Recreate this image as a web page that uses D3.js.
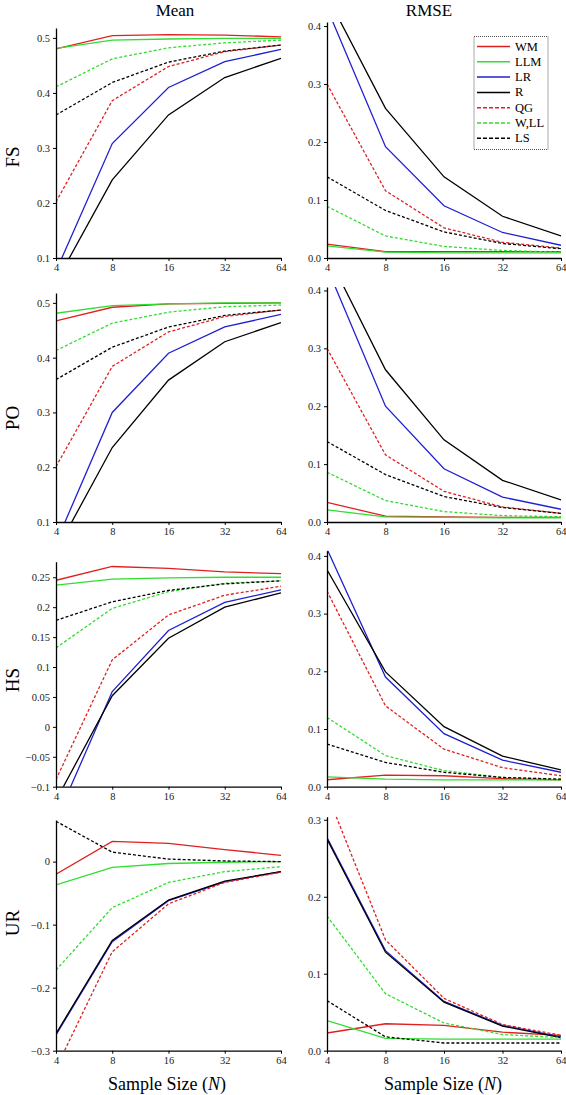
<!DOCTYPE html>
<html><head><meta charset="utf-8">
<script src="https://cdn.jsdelivr.net/npm/d3@7"></script>
<style>
body{margin:0;background:#fff;}
svg{display:block;}
text{font-family:"Liberation Serif","Times New Roman",Times,serif;}
</style></head>
<body><svg id="c" width="566" height="1095"></svg>
<script>
// ---------- data ----------
const N = [4, 8, 16, 32, 64];
const methods = ["WM", "LLM", "LR", "R", "QG", "W,LL", "LS"];
const colors = ["#e02020", "#30dd30", "#2020d0", "#000000", "#e02020", "#30dd30", "#000000"];
const dashed = [false, false, false, false, true, true, true];
const rowLabels = ["FS", "PO", "HS", "UR"];
const colTitles = ["Mean", "RMSE"];
const xLabel = "Sample Size (";
const xLabelVar = "N";

// series values in method order: WM, LLM, LR, R, QG, W,LL, LS
const fsMean = [
  [0.480, 0.504, 0.506, 0.505, 0.502],
  [0.481, 0.496, 0.498, 0.499, 0.499],
  [0.076, 0.308, 0.410, 0.457, 0.479],
  [0.056, 0.242, 0.360, 0.428, 0.463],
  [0.202, 0.386, 0.448, 0.475, 0.487],
  [0.411, 0.462, 0.482, 0.491, 0.496],
  [0.360, 0.419, 0.456, 0.476, 0.487]
];
const fsRmse = [
  [0.024, 0.011, 0.011, 0.011, 0.011],
  [0.021, 0.010, 0.009, 0.009, 0.009],
  [0.431, 0.192, 0.090, 0.044, 0.022],
  [0.452, 0.258, 0.140, 0.072, 0.038],
  [0.300, 0.116, 0.052, 0.027, 0.017],
  [0.089, 0.038, 0.020, 0.013, 0.010],
  [0.140, 0.082, 0.045, 0.025, 0.016]
];
const poMean = [
  [0.467, 0.492, 0.498, 0.499, 0.500],
  [0.481, 0.495, 0.498, 0.500, 0.500],
  [0.062, 0.300, 0.408, 0.456, 0.479],
  [0.047, 0.236, 0.359, 0.429, 0.464],
  [0.201, 0.384, 0.447, 0.475, 0.487],
  [0.413, 0.463, 0.483, 0.493, 0.496],
  [0.360, 0.419, 0.456, 0.477, 0.487]
];
const poRmse = [
  [0.034, 0.010, 0.009, 0.008, 0.008],
  [0.021, 0.009, 0.008, 0.007, 0.007],
  [0.440, 0.200, 0.092, 0.043, 0.022],
  [0.464, 0.263, 0.142, 0.072, 0.038],
  [0.300, 0.116, 0.053, 0.026, 0.015],
  [0.086, 0.037, 0.018, 0.011, 0.009],
  [0.139, 0.082, 0.044, 0.025, 0.015]
];
const hsMean = [
  [0.245, 0.268, 0.265, 0.259, 0.256],
  [0.237, 0.247, 0.249, 0.250, 0.250],
  [-0.156, 0.059, 0.161, 0.208, 0.229],
  [-0.123, 0.052, 0.148, 0.200, 0.224],
  [-0.088, 0.112, 0.187, 0.220, 0.235],
  [0.132, 0.198, 0.226, 0.240, 0.244],
  [0.178, 0.209, 0.228, 0.239, 0.244]
];
const hsRmse = [
  [0.012, 0.020, 0.019, 0.014, 0.012],
  [0.017, 0.013, 0.012, 0.012, 0.012],
  [0.412, 0.190, 0.092, 0.046, 0.025],
  [0.376, 0.199, 0.104, 0.053, 0.029],
  [0.339, 0.140, 0.065, 0.033, 0.019],
  [0.120, 0.054, 0.028, 0.016, 0.013],
  [0.074, 0.042, 0.025, 0.016, 0.013]
];
const urMean = [
  [-0.020, 0.032, 0.029, 0.019, 0.010],
  [-0.037, -0.009, -0.003, -0.001, 0.000],
  [-0.275, -0.127, -0.062, -0.032, -0.016],
  [-0.273, -0.125, -0.061, -0.031, -0.016],
  [-0.328, -0.143, -0.067, -0.033, -0.017],
  [-0.172, -0.073, -0.033, -0.016, -0.008],
  [0.064, 0.015, 0.004, 0.001, 0.000]
];
const urRmse = [
  [0.023, 0.035, 0.033, 0.024, 0.020],
  [0.039, 0.016, 0.015, 0.015, 0.015],
  [0.277, 0.130, 0.064, 0.033, 0.018],
  [0.275, 0.128, 0.063, 0.032, 0.017],
  [0.334, 0.144, 0.068, 0.034, 0.020],
  [0.175, 0.074, 0.036, 0.021, 0.017],
  [0.065, 0.018, 0.010, 0.010, 0.010]
];

const meanTicksP = [0.1, 0.2, 0.3, 0.4, 0.5];
const meanTickLabelsP = ["0.1", "0.2", "0.3", "0.4", "0.5"];
const rmseTicks4 = [0, 0.1, 0.2, 0.3, 0.4];
const rmseTickLabels4 = ["0.0", "0.1", "0.2", "0.3", "0.4"];
const hsMeanTicks = [-0.1, -0.05, 0, 0.05, 0.1, 0.15, 0.2, 0.25];
const hsMeanTickLabels = ["\u22120.1", "\u22120.05", "0", "0.05", "0.1", "0.15", "0.2", "0.25"];
const urMeanTicks = [-0.3, -0.2, -0.1, 0];
const urMeanTickLabels = ["\u22120.3", "\u22120.2", "\u22120.1", "0"];
const urRmseTicks = [0, 0.1, 0.2, 0.3];
const urRmseTickLabels = ["0.0", "0.1", "0.2", "0.3"];

// axis extents
const fsMeanDomain = [0.1, 0.518], fsRmseDomain = [0, 0.407];
const poMeanDomain = [0.1, 0.518], poRmseDomain = [0, 0.406];
const hsMeanDomain = [-0.1, 0.276], hsRmseDomain = [0, 0.409];
const urMeanDomain = [-0.3, 0.066], urRmseDomain = [0, 0.304];

// ---------- layout ----------
const svg = d3.select("#c");
const colX = [[56, 281], [327, 561]];
const rowBottom = [258, 522, 786.7, 1050.7];
const rowTop = [[28, 22], [293, 287], [561.7, 550.7], [820, 816.7]];

const panels = [
  [fsMean, fsMeanDomain, meanTicksP, meanTickLabelsP], [fsRmse, fsRmseDomain, rmseTicks4, rmseTickLabels4],
  [poMean, poMeanDomain, meanTicksP, meanTickLabelsP], [poRmse, poRmseDomain, rmseTicks4, rmseTickLabels4],
  [hsMean, hsMeanDomain, hsMeanTicks, hsMeanTickLabels], [hsRmse, hsRmseDomain, rmseTicks4, rmseTickLabels4],
  [urMean, urMeanDomain, urMeanTicks, urMeanTickLabels], [urRmse, urRmseDomain, urRmseTicks, urRmseTickLabels]
];

const defs = svg.append("defs");

panels.forEach((p, i) => {
  const r = Math.floor(i / 2), c = i % 2;
  const [data, dom, ticks, tickLabels] = p;
  const x = d3.scaleLog().base(2).domain([4, 64]).range(colX[c]);
  const y = d3.scaleLinear().domain(dom).range([rowBottom[r], rowTop[r][c]]);
  const g = svg.append("g");
  const cid = "clip" + i;
  defs.append("clipPath").attr("id", cid).append("rect")
    .attr("x", colX[c][0]).attr("y", rowTop[r][c])
    .attr("width", colX[c][1] - colX[c][0]).attr("height", rowBottom[r] - rowTop[r][c]);

  const line = d3.line().x((d, k) => x(N[k])).y(d => y(d));
  const lg = g.append("g").attr("clip-path", `url(#${cid})`);
  data.forEach((s, m) => {
    lg.append("path").datum(s).attr("d", line)
      .attr("fill", "none").attr("stroke", colors[m]).attr("stroke-width", 1.3)
      .attr("stroke-dasharray", dashed[m] ? "3,2" : null);
  });

  const ya = g.append("g").attr("transform", `translate(${colX[c][0]},0)`)
    .call(d3.axisLeft(y).tickValues(ticks).tickFormat((d, k) => tickLabels[k]).tickSize(3).tickSizeOuter(0).tickPadding(3));
  const xa = g.append("g").attr("transform", `translate(0,${rowBottom[r]})`)
    .call(d3.axisBottom(x).tickValues(N).tickFormat(d => String(d)).tickSize(3).tickSizeOuter(0).tickPadding(3));
  [ya, xa].forEach(a => {
    a.select(".domain").attr("stroke", "#000").attr("stroke-width", 1.3);
    a.selectAll(".tick line").attr("stroke", "#000").attr("stroke-width", 1);
    a.selectAll(".tick text").attr("font-family", '"Liberation Serif",Times,serif')
      .attr("font-size", 10.5).attr("fill", "#222");
  });
  if (c === 1) {
    xa.selectAll(".tick text").filter(d => d === 64).attr("text-anchor", "end").attr("dx", "5");
  }
});

// column titles
colTitles.forEach((t, c) => {
  svg.append("text").attr("x", c === 0 ? 175 : 429).attr("y", 16)
    .attr("text-anchor", "middle").attr("font-size", 17).text(t);
});
// row labels
const rowLabelY = [157, 418, 680, 923];
rowLabels.forEach((t, r) => {
  svg.append("text").attr("transform", `translate(19,${rowLabelY[r]}) rotate(-90)`)
    .attr("text-anchor", "middle").attr("font-size", 19).text(t);
});
// x labels
[167, 443].forEach(cx => {
  const t = svg.append("text").attr("x", cx).attr("y", 1090).attr("text-anchor", "middle").attr("font-size", 18);
  t.append("tspan").text(xLabel);
  t.append("tspan").attr("font-style", "italic").text(xLabelVar);
  t.append("tspan").text(")");
});

// legend
const lgd = svg.append("g");
lgd.append("rect").attr("x", 474).attr("y", 36.5).attr("width", 74).attr("height", 113)
  .attr("fill", "#fff").attr("stroke", "#555").attr("stroke-width", 1).attr("stroke-dasharray", "1,1");
methods.forEach((m, k) => {
  const yy = 46.5 + k * 15.3;
  lgd.append("line").attr("x1", 477).attr("x2", 510).attr("y1", yy).attr("y2", yy)
    .attr("stroke", colors[k]).attr("stroke-width", 1.5).attr("stroke-dasharray", dashed[k] ? "4,2" : null);
  lgd.append("text").attr("x", 515).attr("y", yy + 4).attr("font-size", 12.5).text(m);
});
</script></body></html>
